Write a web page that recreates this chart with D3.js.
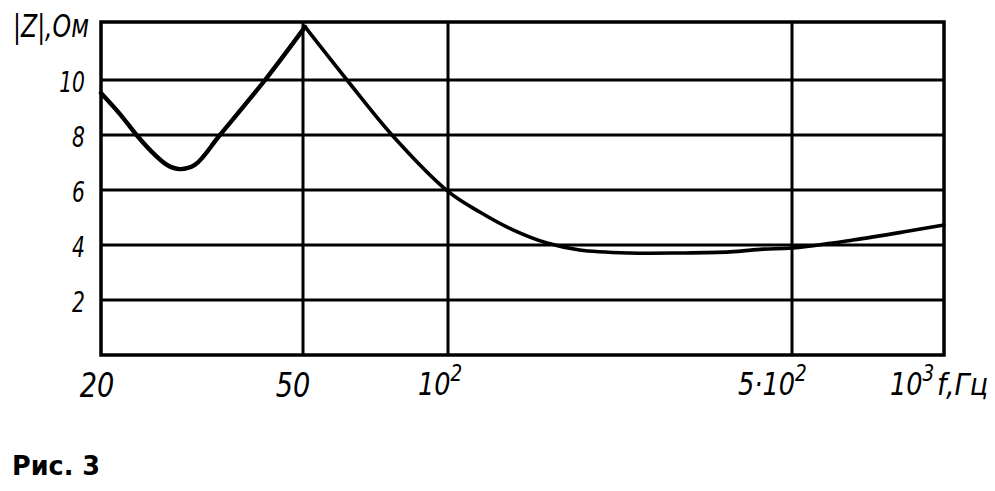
<!DOCTYPE html>
<html>
<head>
<meta charset="utf-8">
<script src="https://cdn.jsdelivr.net/npm/d3@7"></script>
<style>
  html, body { margin: 0; padding: 0; background: #fff; }
  svg { display: block; }
  .lbl { font-family: "DejaVu Sans", "Liberation Sans", sans-serif; font-style: italic; fill: #000; }
</style>
</head>
<body>
<svg id="chart" width="995" height="491"></svg>
<script>
// ---- data ----
const freqs = [20, 21.8, 23.5, 25.0, 27.0, 28.6, 30.6, 34.3, 42.1, 50.5,
               61.7, 76.5, 100, 116, 135.5, 159, 185, 234, 296, 374, 437, 500, 660, 829, 1000];
const impedance = [9.53, 8.76, 8.0, 7.45, 6.91, 6.76, 6.91, 8.0, 10.0, 11.93,
                   10.0, 8.0, 5.95, 5.2, 4.55, 4.07, 3.82, 3.71, 3.71, 3.75, 3.85, 3.89, 4.18, 4.47, 4.73];
const peakFreq = 50.5;
const xTickValues = [20, 50, 100, 500, 1000];
const xTickLabels = [["20", ""], ["50", ""], ["10", "2"], ["5·10", "2"], ["10", "3"]];
const yTickValues = [2, 4, 6, 8, 10];
const yTickLabels = ["2", "4", "6", "8", "10"];
const yMax = 12.1;
const yAxisTitle = "|Z|,Ом";
const xAxisTitle = "f,Гц";
const caption = "Рис. 3";

// ---- layout ----
const L = 101, R = 944, T = 22, B = 355;
const svg = d3.select("#chart");

// piecewise log scale matching the hand-drawn grid
const x = d3.scaleLog().domain(xTickValues).range([101, 303, 448, 792, 944]);
const y = d3.scaleLinear().domain([0, yMax]).range([B, B - yMax * 27.5]);

// grid
svg.append("g").selectAll("line").data(yTickValues).join("line")
  .attr("x1", L).attr("x2", R)
  .attr("y1", d => y(d)).attr("y2", d => y(d))
  .attr("stroke", "#000").attr("stroke-width", 3);
svg.append("g").selectAll("line").data(xTickValues.slice(1, -1)).join("line")
  .attr("x1", d => x(d)).attr("x2", d => x(d))
  .attr("y1", T).attr("y2", B)
  .attr("stroke", "#000").attr("stroke-width", 3);

// frame
svg.append("rect").attr("x", L).attr("y", T).attr("width", R - L).attr("height", B - T)
  .attr("fill", "none").attr("stroke", "#000").attr("stroke-width", 3.5);

// curve (two segments meeting at the sharp peak)
const pts = freqs.map((f, i) => [f, impedance[i]]);
const left = pts.filter(p => p[0] <= peakFreq);
const right = pts.filter(p => p[0] >= peakFreq);
const line = d3.line().x(d => x(d[0])).y(d => y(d[1])).curve(d3.curveCatmullRom.alpha(0.5));
[[left, 4.4], [right, 3.6]].forEach(([seg, w]) => {
  svg.append("path").attr("d", line(seg))
    .attr("fill", "none").attr("stroke", "#000").attr("stroke-width", w)
    .attr("stroke-linejoin", "round").attr("stroke-linecap", "round");
});

// helper for condensed italic labels
function label(px, py, anchor, size, sx, main, sup) {
  const g = svg.append("g").attr("transform", `translate(${px},${py}) scale(${sx},1)`);
  const t = g.append("text").attr("class", "lbl").attr("font-size", size).attr("text-anchor", anchor);
  t.append("tspan").text(main);
  if (sup) t.append("tspan").attr("dy", -size * 0.45).attr("font-size", size * 0.72).text(sup);
  return t;
}

// y axis labels
yTickValues.forEach((v, i) => label(L - 16, y(v) + 12, "end", 29, 0.7, yTickLabels[i]));

// x axis labels
label(x(20) - 4, 397, "middle", 34, 0.8, xTickLabels[0][0]);
label(x(50) - 10, 397, "middle", 34, 0.8, xTickLabels[1][0]);
label(x(100) - 30, 395, "start", 32, 0.8, xTickLabels[2][0], xTickLabels[2][1]);
label(x(500) - 54, 395, "start", 32, 0.8, xTickLabels[3][0], xTickLabels[3][1]);
label(x(1000) - 54, 395, "start", 32, 0.8, xTickLabels[4][0], xTickLabels[4][1]);
svg.append("text").attr("class", "lbl").attr("font-size", 30)
  .attr("x", 937).attr("y", 395).attr("textLength", 51).attr("lengthAdjust", "spacingAndGlyphs")
  .text(xAxisTitle);

// y title
svg.append("text").attr("class", "lbl").attr("font-size", 32)
  .attr("x", 13).attr("y", 37).attr("textLength", 76).attr("lengthAdjust", "spacingAndGlyphs")
  .text(yAxisTitle);

// caption
svg.append("text").attr("x", 12).attr("y", 475)
  .attr("font-family", "DejaVu Sans, sans-serif").attr("font-weight", "bold")
  .attr("font-size", 27).attr("textLength", 88).attr("lengthAdjust", "spacingAndGlyphs")
  .text(caption);
</script>
</body>
</html>
